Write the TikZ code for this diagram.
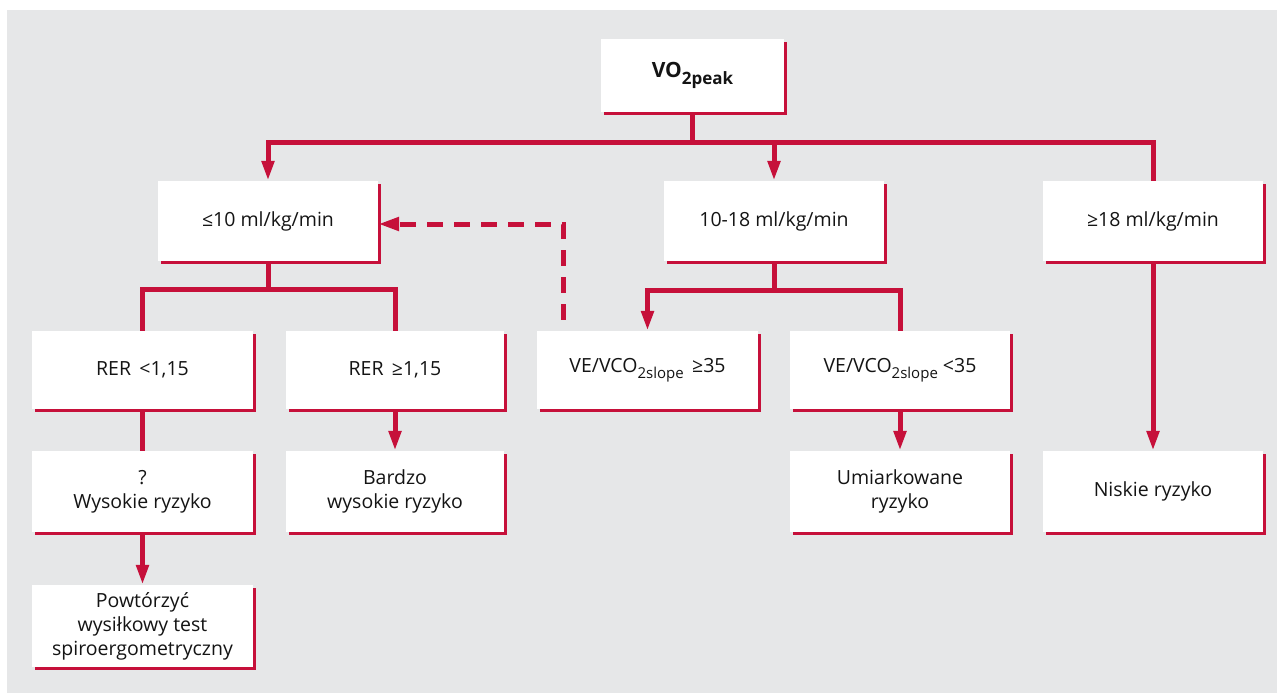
\documentclass[tikz,border=0pt]{standalone}
\usepackage{fontspec}
\setmainfont{Open Sans}
\usetikzlibrary{arrows.meta,shadows}
\definecolor{cred}{RGB}{198,16,58}
\definecolor{cbg}{RGB}{230,231,232}
\newcommand{\lowsub}[1]{\raisebox{-0.55ex}{\fontsize{15}{15}\selectfont #1}}
\newcommand{\bigsub}[1]{\raisebox{-0.6ex}{\fontsize{17}{17}\selectfont #1}}
\begin{document}
\begin{tikzpicture}[x=1pt,y=-1pt,
  box/.style={fill=white, align=center, font=\fontsize{19.5}{24}\selectfont,
    text=black!92, inner sep=0pt,
    general shadow={fill=cred, shadow xshift=3pt, shadow yshift=-3pt}},
  conn/.style={draw=cred, line width=5pt},
  arr/.style={conn, -{Triangle[width=12pt,length=20pt]}},
  dasharr/.style={draw=cred, line width=5pt, dash pattern=on 16pt off 11pt, dash phase=16pt,
    -{Triangle[width=13pt,length=21pt]}}]
\fill[white] (0,0) rectangle (1277,693);
\useasboundingbox (0,0) rectangle (1277,693);
\fill[cbg] (7,10) rectangle (1277,693);

\node[box, minimum width=183pt, minimum height=73pt, font=\fontsize{21}{24}\selectfont] (vo) at (692.5,75.5)
  {\textbf{VO\bigsub{\bfseries 2peak}}};
\node[box, minimum width=220pt, minimum height=80pt] (a) at (268,221) {≤10 ml/kg/min};
\node[box, minimum width=220pt, minimum height=80pt] (b) at (774,221) {10-18 ml/kg/min};
\node[box, minimum width=220pt, minimum height=80pt] (c) at (1153,221) {≥18 ml/kg/min};

\node[box, minimum width=221pt, minimum height=78pt] (d) at (142.5,370) {RER \,<1,15};
\node[box, minimum width=218pt, minimum height=78pt] (e) at (395,370) {RER \,≥1,15};
\node[box, minimum width=221pt, minimum height=78pt] (f) at (647.5,370) {VE/VCO\lowsub{2slope} \,≥35};
\node[box, minimum width=220pt, minimum height=78pt] (g) at (900,370) {VE/VCO\lowsub{2slope} <35};

\node[box, minimum width=221pt, minimum height=81pt] (h) at (142.5,491.5) {?\\Wysokie ryzyko};
\node[box, minimum width=218pt, minimum height=81pt] (i) at (395,491.5) {Bardzo\\wysokie ryzyko};
\node[box, minimum width=220pt, minimum height=81pt] (j) at (900,491.5) {Umiarkowane\\ryzyko};
\node[box, minimum width=220pt, minimum height=81pt] (k) at (1153,491.5) {Niskie ryzyko};

\node[box, minimum width=221pt, minimum height=82pt] (l) at (142.5,626) {Powtórzyć\\wysiłkowy test\\spiroergometryczny};

\coordinate (j1) at (692.5,142);
\coordinate (j2) at (268,289);
\coordinate (j3) at (774,290);
\coordinate (dtop) at (563,224);

\draw[conn] (vo.south) -- (j1);
\draw[arr] (j1) -| (a.north);
\draw[arr] (j1) -| (b.north);
\draw[conn] (j1) -| (c.north);

\draw[conn] (a.south) -- (j2);
\draw[conn] (j2) -| (d.north);
\draw[conn] (j2) -| (e.north);

\draw[conn] (b.south) -- (j3);
\draw[arr] (j3) -| (f.north);
\draw[conn] (j3) -| (g.north);

\draw[conn] (d.south) -- (h.north);
\draw[arr] (h.south) -- (l.north);
\draw[arr] (e.south) -- (i.north);
\draw[arr] (g.south) -- (j.north);
\draw[arr] (c.south) -- (k.north);

\draw[dasharr] (f.north -| dtop) -- (dtop) -- (a.east |- dtop);
\end{tikzpicture}
\end{document}
